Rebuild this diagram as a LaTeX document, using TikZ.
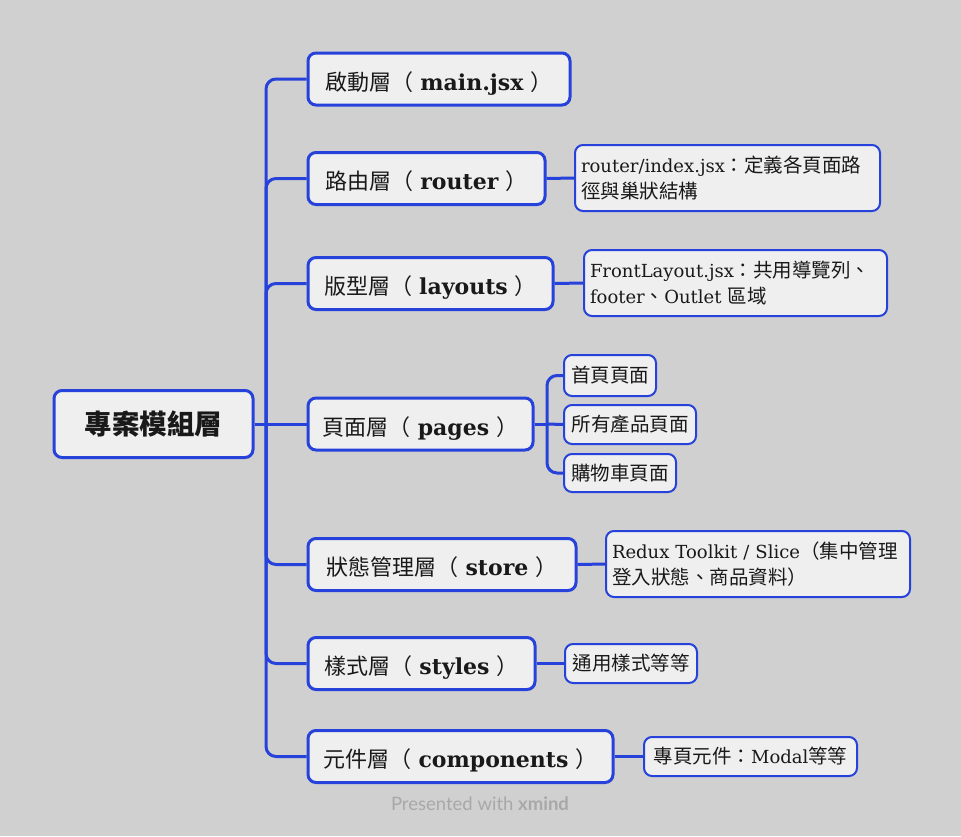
\documentclass[tikz,border=0pt]{standalone}
\usepackage{fontspec}
\usetikzlibrary{backgrounds}
\setmainfont{DejaVu Serif}
\newfontfamily\cjk{Noto Sans CJK TC}
\newfontfamily\footfont{Lato}
\newcommand\zh[1]{{\cjk #1}}
\newcommand\zn[1]{{\cjk\fontsize{19.5}{26}\selectfont #1}}
\definecolor{bg}{RGB}{208,208,208}
\definecolor{boxf}{RGB}{239,239,239}
\definecolor{bl}{RGB}{38,66,218}
\definecolor{ink}{RGB}{25,25,25}
\definecolor{foot}{RGB}{168,168,168}
\tikzset{
  rootbox/.style={draw=bl, line width=3pt, fill=boxf, rounded corners=8pt, anchor=west,
    inner sep=0pt, text=ink, font=\fontsize{27.5}{32}\selectfont},
  lonebox/.style={draw=bl, line width=3pt, fill=boxf, rounded corners=8pt, anchor=west,
    inner sep=0pt, minimum height=52pt, text height=24pt, text depth=2pt, text=ink,
    font=\fontsize{22}{26}\selectfont},
  notebox/.style={draw=bl, line width=2pt, fill=boxf, rounded corners=8pt, anchor=west,
    inner sep=0pt, text=ink, font=\fontsize{18}{26}\selectfont},
  conn/.style={draw=bl, line width=3pt},
  rconn/.style={draw=bl, line width=3pt, rounded corners=10pt},
}
\begin{document}
\begin{tikzpicture}[x=1pt,y=-1pt]
\useasboundingbox (0,0) rectangle (961,836);
\begin{pgfonlayer}{background}
\fill[bg] (0,0) rectangle (961,836);
\end{pgfonlayer}

\coordinate (tr) at (266,424);
\coordinate (pb) at (547,424);

\node[rootbox, minimum width=199pt, minimum height=67pt] (root) at (52.5,424) {\zh{\bfseries 專案模組層}};

\node[lonebox, minimum width=262pt] (n1) at (306.5,79) {\zh{啟動層（}\ \textbf{main.jsx}\ \zh{）}};
\node[lonebox, minimum width=237pt] (n2) at (306.5,178.5) {\zh{路由層（}\ \textbf{router}\ \zh{）}};
\node[lonebox, minimum width=245pt] (n3) at (306.5,283.5) {\zh{版型層（}\ \textbf{layouts}\ \zh{）}};
\node[lonebox, minimum width=225pt] (n4) at (306.5,424) {\zh{頁面層（}\ \textbf{pages}\ \zh{）}};
\node[lonebox, minimum width=268pt] (n5) at (306.5,564.5) {\zh{狀態管理層（}\ \textbf{store}\ \zh{）}};
\node[lonebox, minimum width=227pt] (n6) at (306.5,663.5) {\zh{樣式層（}\ \textbf{styles}\ \zh{）}};
\node[lonebox, minimum width=305pt] (n7) at (306.5,756.5) {\zh{元件層（}\ \textbf{components}\ \zh{）}};

\node[notebox, minimum width=305pt, minimum height=66pt, text width=293pt, align=left] (m2) at (574,178)
  {router/index.jsx\zn{：定義各頁面路}\\\zn{徑與巢狀結構}};
\node[notebox, minimum width=303pt, minimum height=66pt, text width=291pt, align=left] (m3) at (583,283)
  {FrontLayout.jsx\zn{：共用導覽列、}\\footer\zn{、}Outlet \zn{區域}};
\node[notebox, minimum width=92pt, minimum height=41pt] (p1) at (563,375.5) {\zn{首頁頁面}};
\node[notebox, minimum width=132pt, minimum height=39pt] (p2) at (563,424.5) {\zn{所有產品頁面}};
\node[notebox, minimum width=112pt, minimum height=38pt] (p3) at (563,473) {\zn{購物車頁面}};
\node[notebox, minimum width=304pt, minimum height=66pt, text width=292pt, align=left] (m5) at (605,564)
  {Redux Toolkit / Slice\zn{（集中管理}\\\zn{登入狀態、商品資料）}};
\node[notebox, minimum width=132pt, minimum height=39pt] (m6) at (564,663.5) {\zn{通用樣式等等}};
\node[notebox, minimum width=213pt, minimum height=39pt] (m7) at (643,756.5) {\zn{專頁元件：}Modal\zn{等等}};

\begin{pgfonlayer}{background}
% trunk
\draw[conn] (root.east) -- (tr);
\draw[rconn] (tr) |- (n1.west);
\draw[rconn] (tr) |- (n2.west);
\draw[rconn] (tr) |- (n3.west);
\draw[conn] (tr) -- (n4.west);
\draw[rconn] (tr) |- (n5.west);
\draw[rconn] (tr) |- (n6.west);
\draw[rconn] (tr) |- (n7.west);
% level 2
\draw[conn] (n2.east) -- (m2.west);
\draw[conn] (n3.east) -- (m3.west);
\draw[conn] (n4.east) -- (pb);
\draw[rconn] (pb) |- (p1.west);
\draw[conn] (pb) -- (p2.west);
\draw[rconn] (pb) |- (p3.west);
\draw[conn] (n5.east) -- (m5.west);
\draw[conn] (n6.east) -- (m6.west);
\draw[conn] (n7.east) -- (m7.west);
\end{pgfonlayer}

\node[text=foot, font=\footfont\fontsize{18.5}{20}\selectfont] (ft) at (480,804) {Presented with \textbf{xmind}};
\end{tikzpicture}
\end{document}
